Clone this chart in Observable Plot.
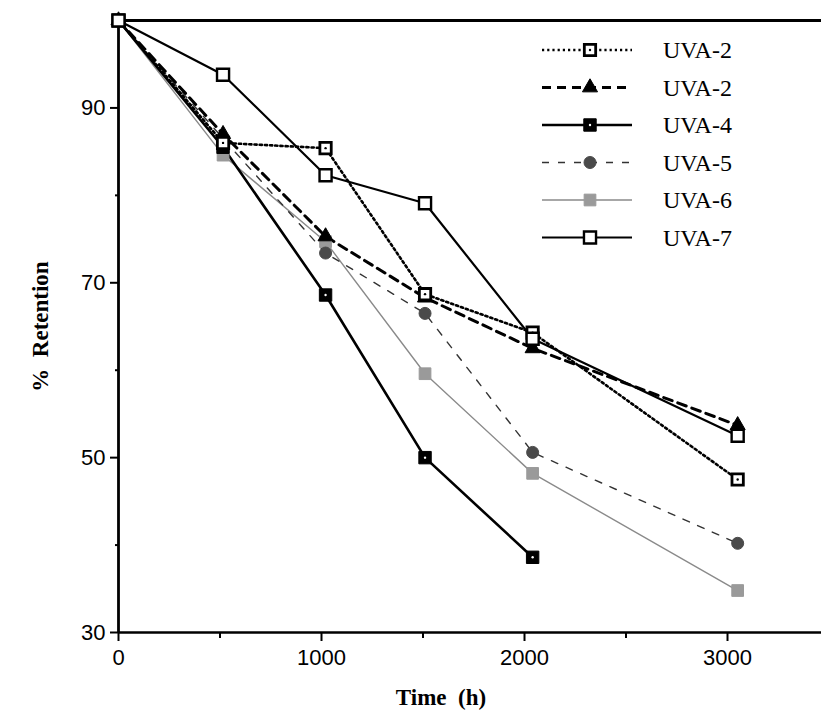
<!DOCTYPE html>
<html>
<head>
<meta charset="utf-8">
<script src="https://cdn.jsdelivr.net/npm/d3@7"></script>
<script src="https://cdn.jsdelivr.net/npm/@observablehq/plot@0.6"></script>
<style>
  html, body { margin: 0; padding: 0; background: #fff; }
  #wrap { position: relative; width: 821px; height: 719px; overflow: hidden; }
  #legend { position: absolute; left: 0; top: 0; }
</style>
</head>
<body>
<div id="wrap"></div>
<script>
// ---- data ----
const times = [0, 515, 1020, 1510, 2040, 3050];
const seriesNames = ["UVA-2", "UVA-2", "UVA-4", "UVA-5", "UVA-6", "UVA-7"];
const uva2dot  = [100, 86.0, 85.4, 68.7, 64.3, 47.5];
const uva2dash = [100, 87.0, 75.3, 68.3, 62.5, 53.7];
const uva4     = [100, 85.5, 68.6, 50.0, 38.6];
const uva5     = [100, 86.5, 73.4, 66.5, 50.6, 40.2];
const uva6     = [100, 84.6, 74.7, 59.6, 48.2, 34.8];
const uva7     = [100, 93.8, 82.3, 79.1, 63.6, 52.5];
const xTicks = [0, 1000, 2000, 3000];
const xMinor = [500, 1500, 2500];
const yTicks = [30, 50, 70, 90];
const yMinor = [40, 60, 80];

const values = [uva2dot, uva2dash, uva4, uva5, uva6, uva7];
const rows = values.map((vals, k) => vals.map((v, i) => ({t: times[i], r: v, k})));

const styles = [
  {stroke: "#000", sw: 2.6, dash: "2.2,3", symbol: "square", r: 6.4, fill: "#fff", mstroke: "#000", msw: 2.8, inner: "#000"},
  {stroke: "#000", sw: 3, dash: "9,6", symbol: "triangle", r: 5.6, fill: "#000", mstroke: "#000", msw: 1},
  {stroke: "#000", sw: 2.6, dash: null, symbol: "square", r: 7, fill: "#000", mstroke: "#000", msw: 1, inner: "#fff"},
  {stroke: "#333", sw: 1.4, dash: "7,9", symbol: "circle", r: 6, fill: "#4a4a4a", mstroke: "#4a4a4a", msw: 1},
  {stroke: "#8a8a8a", sw: 1.4, dash: null, symbol: "square", r: 6.6, fill: "#9a9a9a", mstroke: "#9a9a9a", msw: 1},
  {stroke: "#000", sw: 2.2, dash: null, symbol: "square", r: 6.8, fill: "#fff", mstroke: "#000", msw: 2.4}
];

const tickFont = {fontFamily: "'Liberation Sans', Arial, sans-serif", fontSize: 22};
const titleFont = {fontFamily: "'Liberation Serif', 'Times New Roman', serif", fontWeight: "bold", fontSize: 23, fill: "#000"};

const marks = [
  Plot.ruleY([100], {stroke: "#000", strokeWidth: 3.2}),
  Plot.ruleY([30], {stroke: "#000", strokeWidth: 2.4}),
  Plot.ruleX([0], {stroke: "#000", strokeWidth: 2.8}),
  Plot.axisX({ticks: xTicks, tickSize: 9, tickPadding: 8, tickFormat: d => String(d), label: null, strokeWidth: 2, ...tickFont}),
  Plot.axisX({ticks: xMinor, tickSize: 6, tickFormat: () => "", label: null, strokeWidth: 2}),
  Plot.axisY({ticks: yTicks, tickSize: 8, tickPadding: 5, label: null, strokeWidth: 2, ...tickFont}),
  Plot.axisY({ticks: yMinor, tickSize: 3, tickFormat: () => "", label: null, strokeWidth: 2}),
];

// lines first (grey ones below)
const order = [4, 3, 2, 1, 0, 5];
for (const k of order) {
  const s = styles[k];
  marks.push(Plot.line(rows[k], {x: "t", y: "r", stroke: s.stroke, strokeWidth: s.sw, strokeDasharray: s.dash || undefined}));
}
for (const k of order) {
  const s = styles[k];
  marks.push(Plot.dot(rows[k], {x: "t", y: "r", symbol: s.symbol, r: s.r, fill: s.fill, stroke: s.mstroke, strokeWidth: s.msw}));
  if (s.inner) marks.push(Plot.dot(rows[k], {x: "t", y: "r", r: 1.2, fill: s.inner, stroke: "none"}));
}

marks.push(Plot.text(["Time  (h)"], {frameAnchor: "bottom", textAnchor: "middle", dx: -29, dy: 72, ...titleFont}));
marks.push(Plot.text(["%  Retention"], {frameAnchor: "left", textAnchor: "middle", dx: -78, rotate: -90, ...titleFont}));

const chart = Plot.plot({
  width: 821,
  height: 719,
  marginLeft: 118,
  marginRight: 0,
  marginTop: 20,
  marginBottom: 87,
  x: {domain: [0, 3463]},
  y: {domain: [30, 100]},
  style: {background: "#fff", color: "#000", overflow: "visible"},
  marks
});
document.getElementById("wrap").appendChild(chart);

// ---- legend ----
const leg = d3.select("#wrap").append("svg").attr("id", "legend").attr("width", 821).attr("height", 300);
const sym = {square: d3.symbolSquare, triangle: d3.symbolTriangle, circle: d3.symbolCircle};
seriesNames.forEach((name, k) => {
  const s = styles[k];
  const y = 50 + k * 37.5;
  const g = leg.append("g");
  g.append("line").attr("x1", 542).attr("x2", 632).attr("y1", y).attr("y2", y)
    .attr("stroke", s.stroke).attr("stroke-width", s.sw).attr("stroke-dasharray", s.dash || null);
  g.append("path").attr("transform", `translate(590,${y})`)
    .attr("d", d3.symbol(sym[s.symbol], Math.PI * s.r * s.r)())
    .attr("fill", s.fill).attr("stroke", s.mstroke).attr("stroke-width", s.msw);
  if (s.inner) g.append("circle").attr("cx", 590).attr("cy", y).attr("r", 1.2).attr("fill", s.inner);
  g.append("text").attr("x", 663).attr("y", y).attr("dy", "0.35em")
    .attr("font-family", "'Liberation Serif', 'Times New Roman', serif").attr("font-size", 24)
    .text(name);
});
</script>
</body>
</html>
